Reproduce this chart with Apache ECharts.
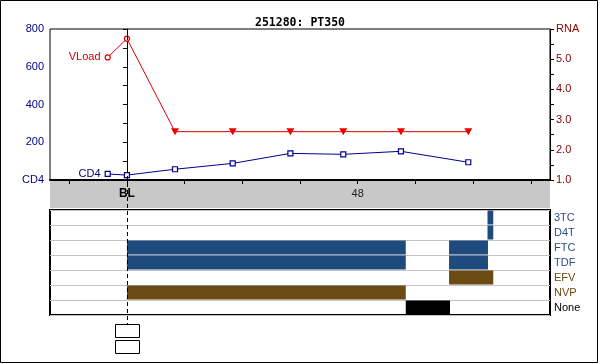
<!DOCTYPE html>
<html><head><meta charset="utf-8">
<script src="https://cdn.jsdelivr.net/npm/echarts@6/dist/echarts.min.js"></script>
<style>html,body{margin:0;padding:0;background:#fff}#c{width:600px;height:364px}</style>
</head><body><div id="c"></div>
<script>
// ---- data ----
const titleText = '251280: PT350';
const xMin = -16, xMax = 88;
const xTickValues = [-12, 0, 12, 24, 36, 48, 60, 72, 84];
const xLabelValues = [0, 48];
const xLabelTexts = ['BL', '48'];
const vloadWeeks = [-4, 0, 10, 22, 34, 45, 57, 71];
const vloadValues = [5.06, 5.68, 2.6, 2.6, 2.6, 2.6, 2.6, 2.6];
const vloadBelowLimit = [false, false, true, true, true, true, true, true];
const cd4Weeks = [-4, 0, 10, 22, 34, 45, 57, 71];
const cd4Values = [32, 26, 57, 88, 141, 136, 152, 94];
const drugs = ['3TC', 'D4T', 'FTC', 'TDF', 'EFV', 'NVP', 'None'];
const drugColors = ['#1f4a7e', '#1f4a7e', '#1f4a7e', '#1f4a7e', '#6b4a14', '#6b4a14', '#000000'];
const drugLabelColors = ['#2a4f86', '#2a4f86', '#2a4f86', '#2a4f86', '#6b4a14', '#6b4a14', '#000000'];
const regDrug  = ['FTC', 'TDF', 'NVP', 'None', 'FTC', 'TDF', 'EFV', '3TC', 'D4T'];
const regStart = [0,     0,     0,     58,     67,    67,    67,    75,    75];
const regEnd   = [58,    58,    58,    67.2,   75.1,  75.1,  76.2,  76.2,  76.2];

const chart = echarts.init(document.getElementById('c'), null, {renderer: 'canvas'});
const FONT = 'Liberation Sans';
const triDown = 'path://M0,0 L10,0 L5,9 Z';

const vloadData = vloadWeeks.map((w, i) => {
  const d = {value: [w, vloadValues[i]]};
  if (vloadBelowLimit[i]) { d.symbol = triDown; d.symbolSize = [8, 7]; d.itemStyle = {color: '#ee0000', borderWidth: 0}; }
  if (i === 0) d.label = {show: true, formatter: 'VLoad', position: 'left', distance: 4, color: '#cc0000', fontFamily: FONT, fontSize: 11};
  return d;
});
const cd4Data = cd4Weeks.map((w, i) => {
  const d = {value: [w, cd4Values[i]]};
  if (i === 0) d.label = {show: true, formatter: 'CD4', position: 'left', distance: 4, color: '#000080', fontFamily: FONT, fontSize: 11};
  return d;
});
const regData = regDrug.map((d, i) => ({value: [drugs.indexOf(d), regStart[i], regEnd[i]], itemStyle: {color: drugColors[drugs.indexOf(d)]}}));

const option = {
  animation: false,
  backgroundColor: '#fff',
  title: {text: titleText, left: 'center', top: 12, textStyle: {fontFamily: 'DejaVu Sans Mono', fontWeight: 'bold', fontSize: 11.5, color: '#000'}},
  grid: [
    {left: 50, right: 50, top: 29, height: 151, show: true, borderColor: '#000', borderWidth: 1, backgroundColor: '#fff'},
    {left: 50, right: 50, top: 180, height: 28, show: true, borderWidth: 0, backgroundColor: '#c8c8c8'},
    {left: 50, right: 50, top: 210, height: 105, show: true, borderColor: '#000', borderWidth: 2, backgroundColor: '#fff'}
  ],
  xAxis: [
    {gridIndex: 0, type: 'value', min: xMin, max: xMax, position: 'bottom', z: 5,
     axisLine: {show: true, onZero: false, lineStyle: {color: '#000', width: 2}},
     axisTick: {show: true, length: 4, customValues: xTickValues, lineStyle: {color: '#000'}},
     axisLabel: {show: true, customValues: xLabelValues, margin: 8,
       formatter: v => { const t = xLabelTexts[xLabelValues.indexOf(v)]; return t === 'BL' ? '{b|BL}' : t; },
       color: '#222', fontFamily: FONT, fontSize: 11,
       rich: {b: {fontWeight: 'bold', color: '#000', fontFamily: FONT, fontSize: 12}}},
     splitLine: {show: false}},
    {gridIndex: 1, type: 'value', min: xMin, max: xMax, show: false},
    {gridIndex: 2, type: 'value', min: xMin, max: xMax, show: false}
  ],
  yAxis: [
    {gridIndex: 0, type: 'value', min: 0, max: 800, interval: 100, position: 'left',
     axisLine: {show: true, lineStyle: {color: '#000'}},
     axisTick: {show: true, length: 4, lineStyle: {color: '#000'}},
     axisLabel: {color: '#000080', fontFamily: FONT, fontSize: 11, margin: 6,
       formatter: v => v % 200 !== 0 ? '' : (v === 0 ? 'CD4' : String(v))},
     splitLine: {show: false}},
    {gridIndex: 0, type: 'value', min: 1, max: 6, interval: 0.5, position: 'right',
     axisLine: {show: true, lineStyle: {color: '#000'}},
     axisTick: {show: true, length: 4, lineStyle: {color: '#000'}},
     axisLabel: {color: '#800000', fontFamily: FONT, fontSize: 11, margin: 6,
       formatter: v => Math.abs(v - Math.round(v)) > 0.01 ? '' : (Math.round(v) === 6 ? 'RNA' : v.toFixed(1))},
     splitLine: {show: false}},
    {gridIndex: 1, type: 'value', min: 0, max: 1, show: false},
    {gridIndex: 2, type: 'category', data: drugs, inverse: true, position: 'right',
     axisLine: {show: false}, axisTick: {show: false},
     axisLabel: {margin: 4, fontFamily: FONT, fontSize: 11, align: 'left',
       color: (v, i) => drugLabelColors[drugs.indexOf(v)]},
     splitLine: {show: true, lineStyle: {color: '#c4c4c4', width: 1}}}
  ],
  series: [
    {name: 'VLoad', type: 'line', xAxisIndex: 0, yAxisIndex: 1, data: vloadData, z: 4,
     symbol: 'circle', symbolSize: 5, showSymbol: true,
     itemStyle: {color: '#fff', borderColor: '#dd0000', borderWidth: 1.2},
     lineStyle: {color: '#dd0000', width: 1}},
    {name: 'CD4', type: 'line', xAxisIndex: 0, yAxisIndex: 0, data: cd4Data, z: 4,
     symbol: 'rect', symbolSize: 5,
     itemStyle: {color: '#fff', borderColor: '#000090', borderWidth: 1.2},
     lineStyle: {color: '#000090', width: 1}},
    {name: 'regimen', type: 'custom', xAxisIndex: 2, yAxisIndex: 3, data: regData,
     renderItem: (params, api) => {
       const row = api.value(0);
       const p0 = api.coord([api.value(1), row]);
       const p1 = api.coord([api.value(2), row]);
       const h = api.size([0, 1])[1];
       return {type: 'rect', shape: {x: p0[0], y: p0[1] - h / 2 + 0.5, width: p1[0] - p0[0], height: h - 1},
               style: {fill: api.visual('color')}};
     }}
  ]
};
chart.setOption(option);

// annotations derived from scales
const bx = Math.round(chart.convertToPixel({xAxisIndex: 0}, 0)) + 0.5;
const yTop = chart.convertToPixel({yAxisIndex: 0}, 800);
const boxW = 24, boxH = 13;
chart.setOption({graphic: [
  {type: 'rect', shape: {x: 0.5, y: 0.5, width: 597, height: 362}, style: {fill: null, stroke: '#000', lineWidth: 1}, z: 100},
  {type: 'line', shape: {x1: bx, y1: yTop, x2: bx, y2: 324}, style: {stroke: '#000', lineWidth: 1, lineDash: [4, 3]}, z: 100},
  {type: 'rect', shape: {x: bx - boxW / 2, y: 324.5, width: boxW, height: boxH}, style: {fill: '#fff', stroke: '#000', lineWidth: 1}, z: 100},
  {type: 'rect', shape: {x: bx - boxW / 2, y: 340.5, width: boxW, height: boxH}, style: {fill: '#fff', stroke: '#000', lineWidth: 1}, z: 100}
]});
</script></body></html>
